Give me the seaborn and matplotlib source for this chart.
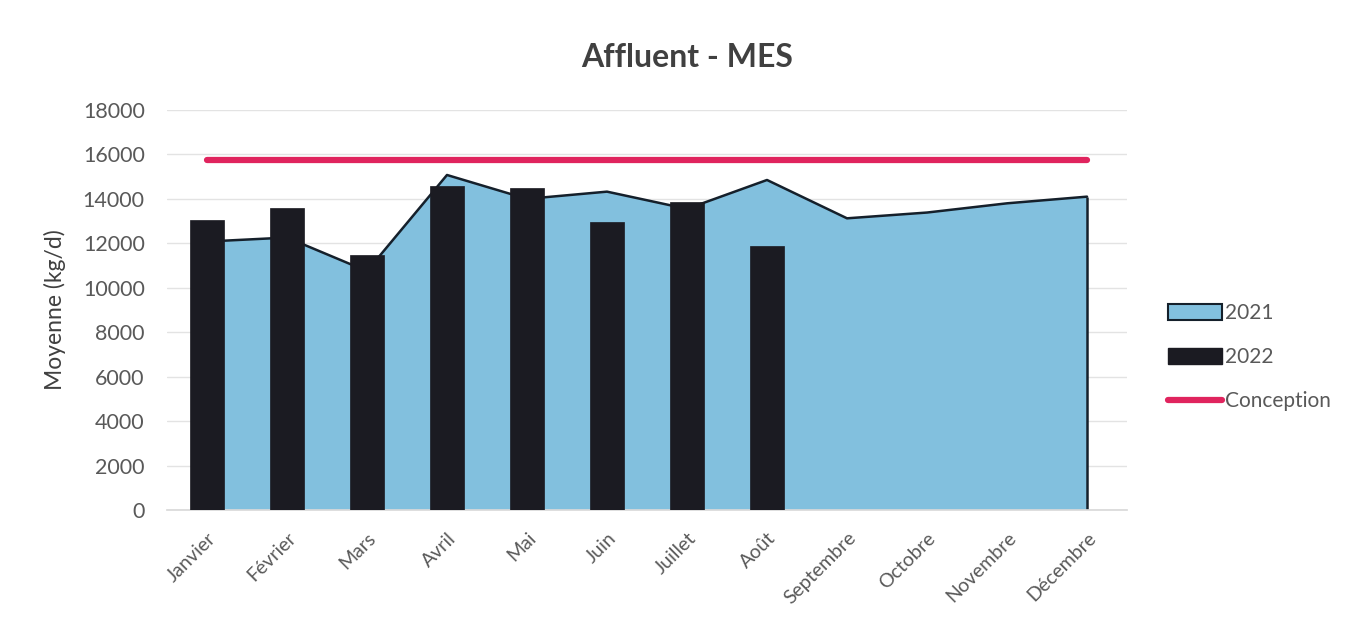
import numpy as np
import pandas as pd
import seaborn as sns
import matplotlib.pyplot as plt
from matplotlib.patches import Patch
from matplotlib.lines import Line2D

# données
mois = ["Janvier", "Février", "Mars", "Avril", "Mai", "Juin", "Juillet",
        "Août", "Septembre", "Octobre", "Novembre", "Décembre"]
val_2021 = [12080, 12260, 10750, 15075, 14000, 14325, 13550, 14850,
            13125, 13385, 13800, 14100]
val_2022 = [13050, 13600, 11475, 14580, 14500, 12975, 13850, 11880]
conception = [15750] * 12

sns.set_theme(style="white")
plt.rcParams['font.family'] = ['Lato', 'DejaVu Sans']

fig = plt.figure(figsize=(13.52, 6.27), dpi=100)
ax = fig.add_axes([0.1235, 0.1866, 0.7101, 0.638])

x = np.arange(len(mois))

# 2021 : aire
ax.fill_between(x, val_2021, color="#82C0DE", edgecolor="none", zorder=1)
ax.plot(x, val_2021, color="#15202b", lw=1.8, zorder=2)
ax.vlines(x[-1], 0, val_2021[-1], color="#15202b", lw=1.8, zorder=2)

# 2022 : barres
df22 = pd.DataFrame({"mois": mois[:len(val_2022)], "val": val_2022})
sns.barplot(data=df22, x="mois", y="val", order=mois, color="#1b1b22",
            saturation=1, width=0.43, edgecolor="#1b1b22", linewidth=0.5,
            ax=ax, zorder=3)

# ligne de conception
ax.plot(x, conception, color="#E0245E", lw=4.5, solid_capstyle="round", zorder=4)

ax.set_xlim(-0.5, 11.5)
ax.set_ylim(0, 18000)
ax.set_yticks(range(0, 18001, 2000))
ax.yaxis.grid(True, color="#e3e3e3", lw=1)
ax.set_axisbelow(True)
for s in ["top", "right", "left"]:
    ax.spines[s].set_visible(False)
ax.spines["bottom"].set_color("#d9d9d9")

ax.set_xticks(x)
ax.set_xticklabels(mois, rotation=45, ha="right", rotation_mode="anchor",
                   color="#595959", fontsize=14)
ax.tick_params(axis="y", labelsize=15.5, labelcolor="#595959", pad=10)
ax.tick_params(axis="x", pad=8)
ax.set_xlabel("")
ax.set_ylabel("Moyenne (kg/d)", fontsize=16.5, color="#404040", labelpad=12)

fig.suptitle("Affluent - MES", x=0.508, y=0.909, va="center", fontsize=23,
             fontweight="bold", color="#404040")

handles = [
    Patch(facecolor="#82C0DE", edgecolor="#15202b", lw=1.5, label="2021"),
    Patch(facecolor="#1b1b22", edgecolor="#1b1b22", label="2022"),
    Line2D([0], [0], color="#E0245E", lw=4.5, label="Conception"),
]
leg = fig.legend(handles=handles, loc="center left", bbox_to_anchor=(0.85, 0.43),
                 frameon=False, fontsize=15, handlelength=2.6, handleheight=0.8,
                 handletextpad=0.15, labelspacing=1.15)
for t in leg.get_texts():
    t.set_color("#595959")

fig.savefig("out.png", dpi=100)
